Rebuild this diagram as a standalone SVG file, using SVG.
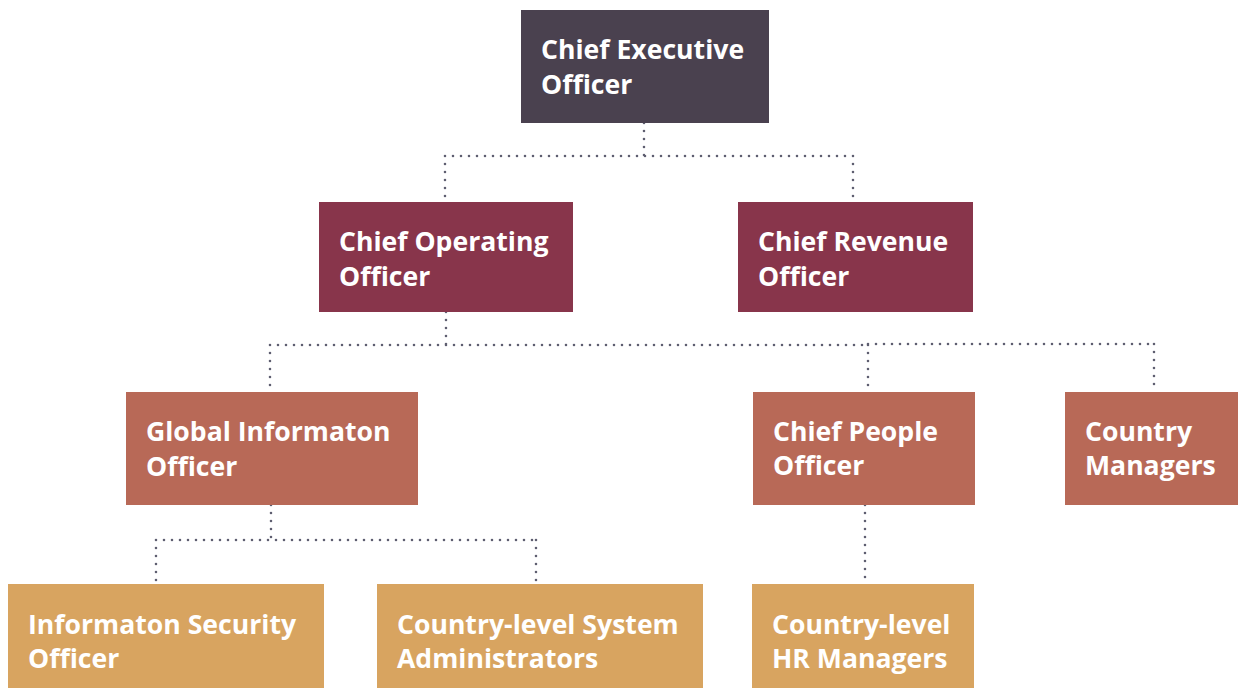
<svg xmlns="http://www.w3.org/2000/svg" width="1238" height="688" viewBox="0 0 1238 688">
<style>
.t{font-family:"Open Sans","Noto Sans",sans-serif;font-weight:bold;font-size:26.6px;fill:#ffffff}
.l1{fill:#4a414f}.l2{fill:#88354b}.l3{fill:#b86957}.l4{fill:#d8a460}
.c{fill:none;stroke:#5e5e70;stroke-width:2.6;stroke-linecap:round;stroke-dasharray:0 8}
</style>
<rect width="1238" height="688" fill="#ffffff"/>
<g id="connectors">
<path class="c" d="M644,123 V156 M445,156 H853 M445,156 V202 M853,156 V202"/>
<path class="c" d="M446,312 V345 M270,345 H868 M270,345 V392 M868,345 V392 M868,344 H1154 M1154,344 V392"/>
<path class="c" d="M271,505 V540 M156,540 H536 M156,540 V584 M536,540 V584"/>
<path class="c" d="M865,505 V584"/>
</g>
<g id="ceo"><rect class="l1" x="521" y="10" width="248" height="113"/><text class="t"><tspan x="541" y="59">Chief Executive</tspan><tspan x="541" y="94">Officer</tspan></text></g>
<g id="coo"><rect class="l2" x="319" y="202" width="254" height="110"/><text class="t"><tspan x="339" y="251">Chief Operating</tspan><tspan x="339" y="286">Officer</tspan></text></g>
<g id="cro"><rect class="l2" x="738" y="202" width="235" height="110"/><text class="t"><tspan x="758" y="251">Chief Revenue</tspan><tspan x="758" y="286">Officer</tspan></text></g>
<g id="gio"><rect class="l3" x="126" y="392" width="292" height="113"/><text class="t"><tspan x="146" y="441">Global Informaton</tspan><tspan x="146" y="476">Officer</tspan></text></g>
<g id="cpo"><rect class="l3" x="753" y="392" width="222" height="113"/><text class="t"><tspan x="773" y="441">Chief People</tspan><tspan x="773" y="475">Officer</tspan></text></g>
<g id="cm"><rect class="l3" x="1065" y="392" width="173" height="113"/><text class="t"><tspan x="1085" y="441">Country</tspan><tspan x="1085" y="475">Managers</tspan></text></g>
<g id="iso"><rect class="l4" x="8" y="584" width="316" height="104"/><text class="t"><tspan x="28" y="634">Informaton Security</tspan><tspan x="28" y="668">Officer</tspan></text></g>
<g id="csa"><rect class="l4" x="377" y="584" width="326" height="104"/><text class="t"><tspan x="397" y="634">Country-level System</tspan><tspan x="397" y="668">Administrators</tspan></text></g>
<g id="hr"><rect class="l4" x="752" y="584" width="222" height="104"/><text class="t"><tspan x="772" y="634">Country-level</tspan><tspan x="772" y="668">HR Managers</tspan></text></g>
</svg>
